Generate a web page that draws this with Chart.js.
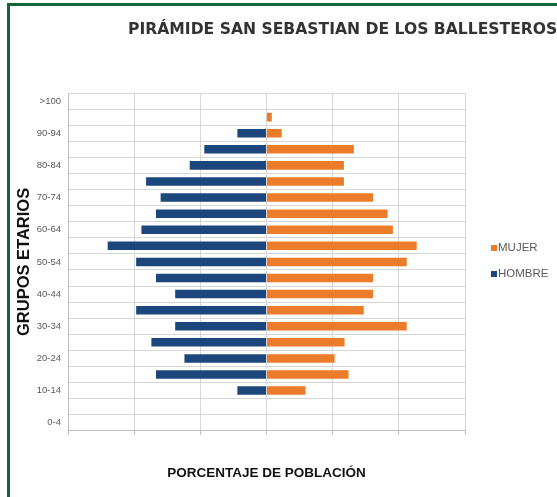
<!DOCTYPE html>
<html>
<head>
<meta charset="utf-8">
<script src="https://cdn.jsdelivr.net/npm/chart.js@4.4.1/dist/chart.umd.min.js"></script>
<style>
  html, body { margin: 0; padding: 0; background: #fff; }
  #wrap { position: relative; width: 557px; height: 497px; overflow: hidden; }
  #frame {
    position: absolute; left: 7px; top: 3px; right: -10px; bottom: -10px;
    border-left: 3px solid #0f6638; border-top: 3px solid #0f6638;
    pointer-events: none;
  }
</style>
</head>
<body>
<div id="wrap">
  <canvas id="pyramid" width="557" height="497"></canvas>
  <div id="frame"></div>
</div>
<script>
// age groups, youngest first (axis is reversed so >100 sits on top)
const ageGroups = ['0-4', '5-9', '10-14', '15-19', '20-24', '25-29', '30-34', '35-39', '40-44', '45-49',
  '50-54', '55-59', '60-64', '65-69', '70-74', '75-79', '80-84', '85-89', '90-94', '95-99', '>100'];
const hombre = [0, 0, 0.44, 1.67, 1.24, 1.74, 1.38, 1.97, 1.38, 1.67,
  1.97, 2.40, 1.89, 1.67, 1.60, 1.82, 1.16, 0.94, 0.44, 0, 0];
const mujer = [0, 0, 0.59, 1.24, 1.03, 1.18, 2.12, 1.47, 1.61, 1.61,
  2.12, 2.27, 1.91, 1.83, 1.61, 1.17, 1.17, 1.32, 0.23, 0.08, 0];
const seriesNames = ['MUJER', 'HOMBRE'];
const chartTitle = 'PIRÁMIDE SAN SEBASTIAN DE LOS BALLESTEROS';
const xTitle = 'PORCENTAJE DE POBLACIÓN';
const yTitle = 'GRUPOS ETARIOS';

const ORANGE = '#ec7c2a';
const BLUE = '#1c477c';
const SANS = "'Liberation Sans', Arial, sans-serif";

// title and legend sit outside the plot, drawn at fixed spots like the excel sheet
const sheetDecor = {
  id: 'sheetDecor',
  afterDraw(chart) {
    const ctx = chart.ctx;
    ctx.save();
    ctx.fillStyle = '#333333';
    ctx.font = "bold 15.6px 'DejaVu Sans'";
    ctx.textAlign = 'left';
    ctx.textBaseline = 'alphabetic';
    ctx.fillText(chartTitle, 128, 34);

    ctx.font = '11.5px ' + SANS;
    ctx.textBaseline = 'middle';
    chart.data.datasets.forEach((ds, i) => {
      const y = 248 + i * 26;
      ctx.fillStyle = ds.backgroundColor;
      ctx.fillRect(491, y - 3, 6, 6);
      ctx.fillStyle = '#595959';
      ctx.fillText(ds.label, 498, y);
    });
    ctx.restore();
  }
};

const ctx = document.getElementById('pyramid').getContext('2d');
new Chart(ctx, {
  type: 'bar',
  data: {
    labels: ageGroups,
    datasets: [
      {
        label: seriesNames[0],
        data: mujer,
        backgroundColor: ORANGE,
        barPercentage: 0.53,
        categoryPercentage: 1
      },
      {
        label: seriesNames[1],
        data: hombre.map(v => -v),
        backgroundColor: BLUE,
        barPercentage: 0.53,
        categoryPercentage: 1
      }
    ]
  },
  options: {
    indexAxis: 'y',
    responsive: false,
    animation: false,
    layout: { padding: { top: 93, right: 92, bottom: 16, left: 0 } },
    plugins: {
      legend: { display: false },
      title: { display: false },
      tooltip: { enabled: false }
    },
    scales: {
      x: {
        stacked: true,
        min: -3,
        max: 3,
        ticks: { display: false, stepSize: 1 },
        grid: { color: '#d6d6d6', tickLength: 4, tickColor: '#bfbfbf' },
        border: { color: '#bfbfbf' },
        title: {
          display: true,
          text: xTitle,
          color: '#111',
          font: { family: SANS, size: 13.5, weight: 'bold' },
          padding: { top: 30, bottom: 0 }
        }
      },
      y: {
        stacked: true,
        reverse: true,
        afterFit(scale) { scale.width = 68; },
        ticks: {
          autoSkip: false,
          padding: 7,
          color: '#595959',
          font: { family: SANS, size: 9.5 },
          callback: (val, i) => (i % 2 === 0 ? ageGroups[i] : '')
        },
        grid: { color: '#d6d6d6', drawTicks: false },
        border: { color: '#bfbfbf' },
        title: {
          display: true,
          text: yTitle,
          color: '#111',
          font: { family: SANS, size: 16.5, weight: 'bold' },
          padding: { top: 15, bottom: 0 }
        }
      }
    }
  },
  plugins: [sheetDecor]
});
</script>
</body>
</html>
